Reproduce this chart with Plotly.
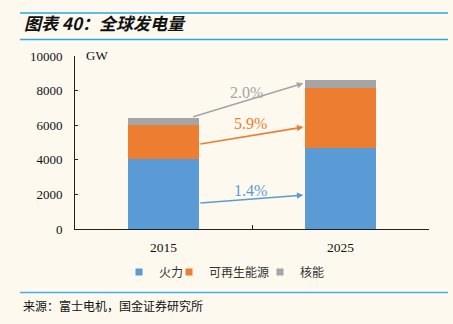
import plotly.graph_objects as go

# Installed capacity (GW) by source
years = ["2015", "2025"]
thermal = [4040, 4680]      # 火力
renewable = [1960, 3470]    # 可再生能源
nuclear = [420, 490]        # 核能
series_names = ["火力", "可再生能源", "核能"]
colors = ["#5B9BD5", "#ED7D31", "#A5A5A5"]

# Growth arrows between the two years (CAGR labels)
growth_labels = ["1.4%", "5.9%", "2.0%"]
arrow_from_y = [1500, 4900, 6460]
arrow_to_y = [1960, 5890, 8420]
arrow_from_x = [0.20, 0.20, 0.16]
arrow_to_x = [0.79, 0.79, 0.79]
label_y = [2250, 6120, 7900]
label_x = [0.49, 0.49, 0.47]

y_ticks = [0, 2000, 4000, 6000, 8000, 10000]
y_tick_text = ["0", "2000", "4000", "6000", "8000", "10000"]

W, H = 453, 324
L, R, T, B = 75, 24, 56, 95
PW, PH = W - L - R, H - T - B


def px_x(px):
    return (px - L) / PW


def px_y(py):
    return (H - B - py) / PH


BG = "#FDF9EF"
SERIF = "Liberation Serif, Times New Roman, serif"
CJK = "Noto Sans CJK SC, sans-serif"

fig = go.Figure()
for name, vals, col in zip(series_names, [thermal, renewable, nuclear], colors):
    fig.add_trace(go.Bar(x=years, y=vals, name=name, marker_color=col,
                         marker_line_width=0, showlegend=False))

# Legend entries with small square keys, one legend box per entry
legend_ids = ["legend", "legend2", "legend3"]
text_left = [159, 209, 300]
for name, col, lid in zip(series_names, colors, legend_ids):
    fig.add_trace(go.Scatter(x=[None], y=[None], mode="markers", name=name,
                             marker=dict(symbol="square", size=7, color=col),
                             legend=lid, showlegend=True))

legend_common = dict(orientation="h", yanchor="middle", y=px_y(272), xanchor="left",
                     bgcolor="rgba(0,0,0,0)", borderwidth=0,
                     font=dict(family=CJK, size=12, color="#333333"),
                     itemwidth=30)
layout_legends = {}
for lid, tl in zip(legend_ids, text_left):
    layout_legends[lid] = dict(legend_common, x=px_x(tl - 40))

annotations = []
for i in range(3):
    annotations.append(dict(
        x=arrow_to_x[i], y=arrow_to_y[i], ax=arrow_from_x[i], ay=arrow_from_y[i],
        xref="x", yref="y", axref="x", ayref="y", text="", showarrow=True,
        arrowhead=2, arrowsize=0.8, arrowwidth=1.6, arrowcolor=colors[i], standoff=0))
    annotations.append(dict(
        x=label_x[i], y=label_y[i], xref="x", yref="y", text=growth_labels[i],
        showarrow=False, font=dict(family=SERIF, size=16, color=colors[i])))

annotations += [
    dict(x=px_x(84), y=10000, xref="paper", yref="y", text="GW", showarrow=False,
         xanchor="left", yanchor="middle", yshift=1,
         font=dict(family=SERIF, size=13, color="#111111")),
    dict(x=px_x(22), y=px_y(22), xref="paper", yref="paper",
         text="<b><i>图表 40：全球发电量</i></b>", showarrow=False,
         xanchor="left", yanchor="middle",
         font=dict(family=CJK, size=17, color="#111111")),
    dict(x=px_x(21), y=px_y(305), xref="paper", yref="paper",
         text="来源：富士电机，国金证券研究所", showarrow=False,
         xanchor="left", yanchor="middle",
         font=dict(family=CJK, size=12, color="#111111")),
]

shapes = [
    dict(type="line", xref="paper", yref="paper", x0=px_x(20), x1=px_x(448),
         y0=px_y(13), y1=px_y(13), line=dict(color="#2AA7E4", width=1.6)),
    dict(type="line", xref="paper", yref="paper", x0=px_x(20), x1=px_x(448),
         y0=px_y(39.5), y1=px_y(39.5), line=dict(color="#2AA7E4", width=1.6)),
    dict(type="line", xref="paper", yref="paper", x0=px_x(20), x1=px_x(448),
         y0=px_y(292.5), y1=px_y(292.5), line=dict(color="#45AEE6", width=1.6)),
]

fig.update_layout(
    width=W, height=H, margin=dict(l=L, r=R, t=T, b=B, pad=0),
    paper_bgcolor=BG, plot_bgcolor=BG, barmode="stack", bargap=0.6,
    annotations=annotations, shapes=shapes,
    xaxis=dict(type="category", range=[-0.5, 1.5], showline=True, linecolor="#222222",
               linewidth=1, ticks="inside", tickson="boundaries", ticklen=4,
               tickcolor="#222222", showgrid=False, zeroline=False,
               tickfont=dict(family=SERIF, size=13.5, color="#111111"),
               ticklabelstandoff=6),
    yaxis=dict(range=[0, 10000], tickvals=y_ticks, ticktext=y_tick_text,
               showline=True, linecolor="#222222",
               linewidth=1, ticks="inside", ticklen=3, tickcolor="#222222",
               showgrid=False, zeroline=False,
               tickfont=dict(family=SERIF, size=13, color="#111111"),
               ticklabelstandoff=9),
    **layout_legends,
)

fig.write_html("out.html")
